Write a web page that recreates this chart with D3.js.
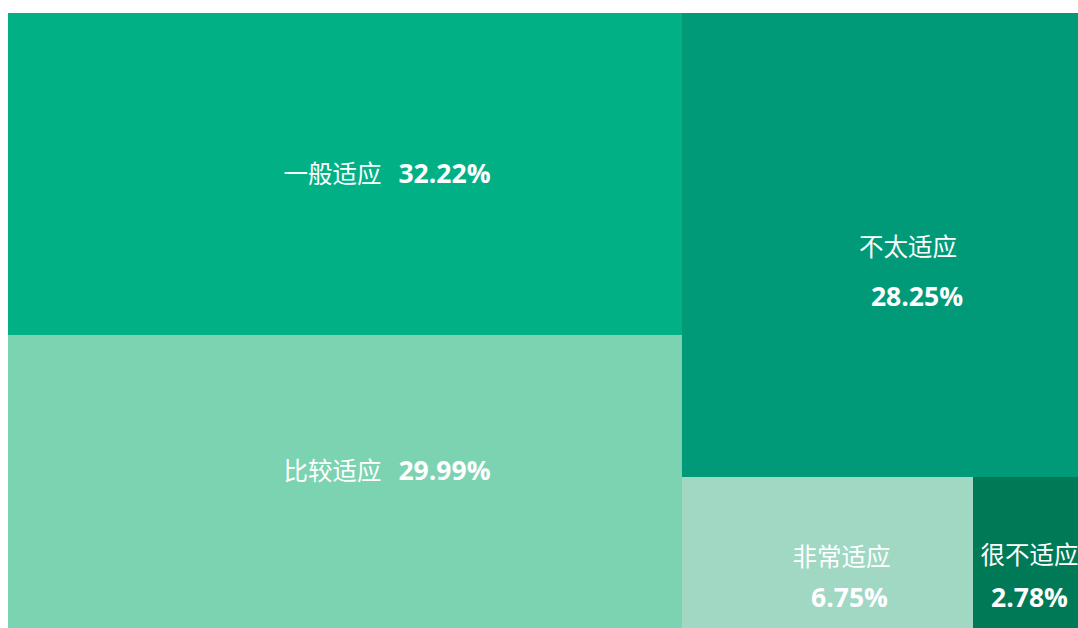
<!DOCTYPE html>
<html>
<head>
<meta charset="utf-8">
<script src="https://cdn.jsdelivr.net/npm/d3@7"></script>
<style>
  body { margin: 0; background: #fff; }
  svg { display: block; }
  text { fill: #fff; }
</style>
</head>
<body>
<div id="chart"></div>
<script>
// categories and their shares (%)
var categories = ["一般适应", "比较适应", "不太适应", "非常适应", "很不适应"];
var values = [32.22, 29.99, 28.25, 6.75, 2.78];
var colors = ["#02b085", "#7bd3b2", "#009a78", "#a0d8c4", "#007a56"];

// how the tiles are grouped (slice / dice alternate per depth)
var groups = [[0, 1], [2, [3, 4]]];

// label placement relative to tile centre: [name dx, name dy, pct dx, pct dy, inline]
var labelOffsets = [
  [42, 3, 0, 0, true],
  [42, -10, 0, 0, true],
  [21, 2, 30, 52, false],
  [14, 2, 22, 42, false],
  [-3, 0, -3, 42, false]
];

var width = 1078, height = 628;
var svg = d3.select("#chart").append("svg")
  .attr("width", width)
  .attr("height", height);

function toNode(g) {
  if (typeof g === "number") return {idx: g, value: values[g]};
  return {children: g.map(toNode)};
}

var root = d3.hierarchy({children: groups.map(toNode)})
  .sum(function(d) { return d.value || 0; });

d3.treemap()
  .tile(d3.treemapSliceDice)
  .size([1084, 621])
  .round(true)
  .paddingInner(0)(root);

var g = svg.append("g").attr("transform", "translate(8,13)");

var leaves = g.selectAll("g.leaf")
  .data(root.leaves())
  .enter().append("g")
  .attr("class", "leaf");

leaves.append("rect")
  .attr("x", function(d) { return d.x0; })
  .attr("y", function(d) { return d.y0; })
  .attr("width", function(d) { return d.x1 - d.x0; })
  .attr("height", function(d) { return d.y1 - d.y0; })
  .attr("shape-rendering", "crispEdges")
  .attr("fill", function(d) { return colors[d.data.idx]; });

var cjk = "'Noto Sans CJK SC', sans-serif";
var num = "'Open Sans', 'Noto Sans', sans-serif";

leaves.each(function(d) {
  var i = d.data.idx;
  var o = labelOffsets[i];
  var cx = (d.x0 + d.x1) / 2, cy = (d.y0 + d.y1) / 2;
  var sel = d3.select(this);
  var pct = values[i].toFixed(2) + "%";
  if (o[4]) {
    var t = sel.append("text")
      .attr("x", cx + o[0])
      .attr("y", cy + o[1])
      .attr("dy", "0.35em")
      .attr("text-anchor", "middle");
    t.append("tspan")
      .style("font-family", cjk)
      .style("font-size", "24.5px")
      .text(categories[i]);
    t.append("tspan")
      .attr("dx", 17)
      .style("font-family", num)
      .style("font-size", "26.5px")
      .style("font-weight", "bold")
      .text(pct);
  } else {
    sel.append("text")
      .attr("x", cx + o[0])
      .attr("y", cy + o[1])
      .attr("dy", "0.35em")
      .attr("text-anchor", "middle")
      .style("font-family", cjk)
      .style("font-size", "24.5px")
      .text(categories[i]);
    sel.append("text")
      .attr("x", cx + o[2])
      .attr("y", cy + o[3])
      .attr("dy", "0.35em")
      .attr("text-anchor", "middle")
      .style("font-family", num)
      .style("font-size", "26.5px")
      .style("font-weight", "bold")
      .text(pct);
  }
});
</script>
</body>
</html>
